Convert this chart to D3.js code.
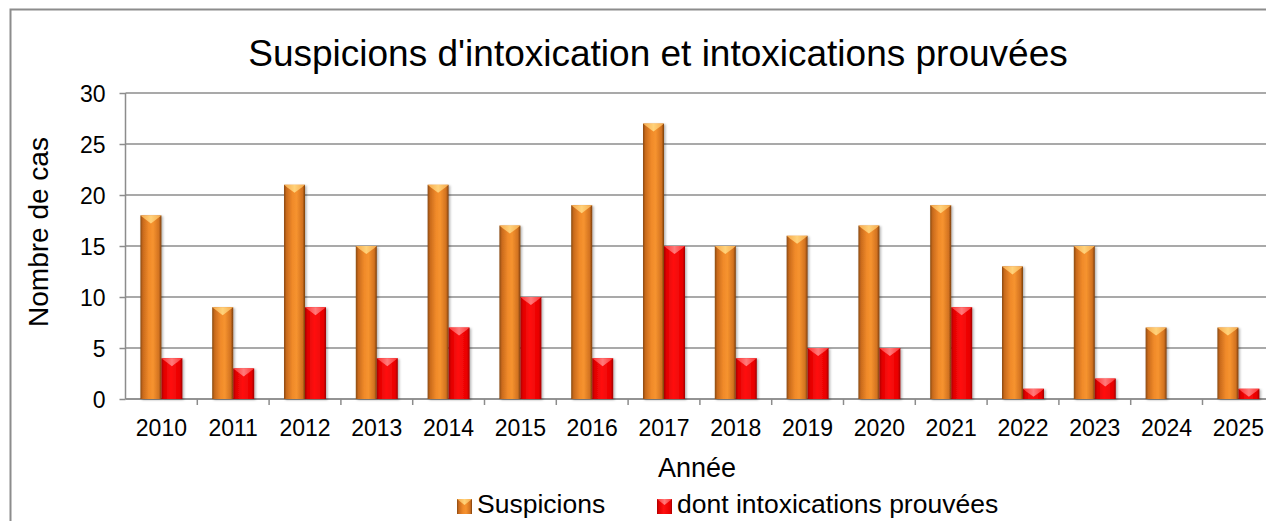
<!DOCTYPE html>
<html>
<head>
<meta charset="utf-8">
<script src="https://cdn.jsdelivr.net/npm/d3@7"></script>
<style>
  body { margin: 0; background: #fff; }
  svg { display: block; font-family: "Liberation Sans", Arial, sans-serif; }
</style>
</head>
<body>
<svg width="1266" height="521"></svg>
<script>
var years = ["2010", "2011", "2012", "2013", "2014", "2015", "2016", "2017",
             "2018", "2019", "2020", "2021", "2022", "2023", "2024", "2025"];
var suspicions = [18, 9, 21, 15, 21, 17, 19, 27, 15, 16, 17, 19, 13, 15, 7, 7];
var prouvees = [4, 3, 9, 4, 7, 10, 4, 15, 4, 5, 5, 9, 1, 2, 0, 1];
var seriesNames = ["Suspicions", "dont intoxications prouvées"];
var yTicks = [0, 5, 10, 15, 20, 25, 30];

var svg = d3.select("svg"),
    width = +svg.attr("width"),
    height = +svg.attr("height");

var plotLeft = 125.5, plotTop = 93, plotBottom = 399, band = 71.8;

var x0 = d3.scaleBand()
    .domain(years)
    .range([plotLeft, plotLeft + band * years.length])
    .padding(0);

var x1 = d3.scaleBand()
    .domain(["s", "p"])
    .range([x0.bandwidth() / 2 - 21, x0.bandwidth() / 2 + 21]);

var y = d3.scaleLinear().domain([0, 30]).range([plotBottom, plotTop]);

var defs = svg.append("defs");

function sideGradient(id, stops) {
    var g = defs.append("linearGradient").attr("id", id)
        .attr("x1", "0%").attr("x2", "100%").attr("y1", "0%").attr("y2", "0%");
    stops.forEach(function (s) {
        g.append("stop").attr("offset", s[0]).attr("stop-color", s[1]);
    });
}
sideGradient("gOrange", [["0%", "#8a4a12"], ["12%", "#c96a1c"], ["40%", "#f08a2a"], ["60%", "#f6932f"], ["88%", "#d27220"], ["100%", "#7a3e0c"]]);
sideGradient("gRed", [["0%", "#a80000"], ["12%", "#e00000"], ["45%", "#ff1010"], ["88%", "#e80000"], ["100%", "#a00000"]]);
sideGradient("gOrangeTop", [["0%", "#f7a84a"], ["50%", "#ffd27a"], ["100%", "#f7a84a"]]);
sideGradient("gRedTop", [["0%", "#ff3030"], ["50%", "#ff7a7a"], ["100%", "#ff3030"]]);

var shadow = defs.append("filter").attr("id", "shadow")
    .attr("x", "-20%").attr("y", "-5%").attr("width", "150%").attr("height", "115%");
shadow.append("feDropShadow").attr("dx", 1.5).attr("dy", 1).attr("stdDeviation", 1)
    .attr("flood-color", "#000").attr("flood-opacity", 0.3);

// outer chart border (cropped on the right)
svg.append("rect")
    .attr("x", 10.5).attr("y", 9.5)
    .attr("width", 1300).attr("height", 560)
    .attr("fill", "none").attr("stroke", "#8c8c8c").attr("stroke-width", 2);

// gridlines
svg.append("g").selectAll("line")
    .data(yTicks)
    .enter().append("line")
    .attr("x1", plotLeft).attr("x2", width + 20)
    .attr("y1", function (d) { return y(d); })
    .attr("y2", function (d) { return y(d); })
    .attr("stroke", "#8c8c8c").attr("stroke-width", 1.5);

// y axis
var yAxis = svg.append("g")
    .attr("transform", "translate(" + plotLeft + ",0)")
    .call(d3.axisLeft(y).tickValues(yTicks).tickSize(6).tickPadding(14));
yAxis.selectAll("text").attr("font-size", 23).attr("fill", "#000").attr("dy", "0.36em")
    .style("font-family", "Liberation Sans, Arial, sans-serif");
yAxis.selectAll("line, path").attr("stroke", "#8c8c8c").attr("stroke-width", 1.5);
yAxis.select(".domain").attr("d", "M0," + plotTop + "V" + plotBottom);

// x axis
var xAxis = svg.append("g")
    .attr("transform", "translate(0," + plotBottom + ")");
xAxis.append("line")
    .attr("x1", plotLeft).attr("x2", width + 20)
    .attr("stroke", "#8c8c8c").attr("stroke-width", 1.5);
xAxis.selectAll(".tick-mark")
    .data(years)
    .enter().append("line")
    .attr("class", "tick-mark")
    .attr("x1", function (d) { return x0(d) + x0.bandwidth(); })
    .attr("x2", function (d) { return x0(d) + x0.bandwidth(); })
    .attr("y1", 0).attr("y2", 6)
    .attr("stroke", "#8c8c8c").attr("stroke-width", 1.5);
xAxis.selectAll(".tick-label")
    .data(years)
    .enter().append("text")
    .attr("class", "tick-label")
    .attr("x", function (d) { return x0(d) + x0.bandwidth() / 2; })
    .attr("y", 37)
    .attr("text-anchor", "middle")
    .attr("font-size", 23)
    .text(function (d) { return d; });

// bars
var rows = years.map(function (yr, i) {
    return {year: yr, values: [
        {key: "s", value: suspicions[i]},
        {key: "p", value: prouvees[i]}
    ]};
});

var groups = svg.append("g").selectAll("g")
    .data(rows)
    .enter().append("g")
    .attr("transform", function (d) { return "translate(" + x0(d.year) + ",0)"; });

var bars = groups.selectAll("g")
    .data(function (d) { return d.values; })
    .enter().append("g")
    .attr("filter", "url(#shadow)");

bars.append("rect")
    .attr("x", function (d) { return x1(d.key); })
    .attr("y", function (d) { return y(d.value); })
    .attr("width", x1.bandwidth())
    .attr("height", function (d) { return y(0) - y(d.value); })
    .attr("fill", function (d) { return d.key === "s" ? "url(#gOrange)" : "url(#gRed)"; });

// bevel top
bars.append("path")
    .attr("d", function (d) {
        var l = x1(d.key), r = l + x1.bandwidth(), t = y(d.value);
        var h = Math.min(8, y(0) - t);
        return "M" + l + "," + t + "L" + r + "," + t + "L" + (r - 3) + "," + (t + h * 0.3) +
            "L" + ((l + r) / 2) + "," + (t + h) + "L" + (l + 3) + "," + (t + h * 0.3) + "Z";
    })
    .attr("fill", function (d) { return d.key === "s" ? "url(#gOrangeTop)" : "url(#gRedTop)"; })
    .attr("opacity", function (d) { return d.value > 0 ? 1 : 0; });

// title
svg.append("text")
    .attr("x", 658).attr("y", 66)
    .attr("text-anchor", "middle")
    .attr("font-size", 37)
    .text("Suspicions d'intoxication et intoxications prouvées");

// axis titles
svg.append("text")
    .attr("transform", "translate(48,232) rotate(-90)")
    .attr("text-anchor", "middle")
    .attr("font-size", 28)
    .text("Nombre de cas");

svg.append("text")
    .attr("x", 697).attr("y", 477)
    .attr("text-anchor", "middle")
    .attr("font-size", 27)
    .text("Année");

// legend
var legend = svg.append("g").selectAll("g")
    .data(seriesNames)
    .enter().append("g")
    .attr("transform", function (d, i) { return "translate(" + (i === 0 ? 457 : 657) + ",499)"; });

legend.append("rect")
    .attr("width", 15).attr("height", 15)
    .attr("fill", function (d, i) { return i === 0 ? "url(#gOrange)" : "url(#gRed)"; });
legend.append("path")
    .attr("d", "M0,0L15,0L7.5,6Z")
    .attr("fill", function (d, i) { return i === 0 ? "url(#gOrangeTop)" : "url(#gRedTop)"; });
legend.append("text")
    .attr("x", 20).attr("y", 14)
    .attr("font-size", 26.5)
    .text(function (d) { return d; });
</script>
</body>
</html>
